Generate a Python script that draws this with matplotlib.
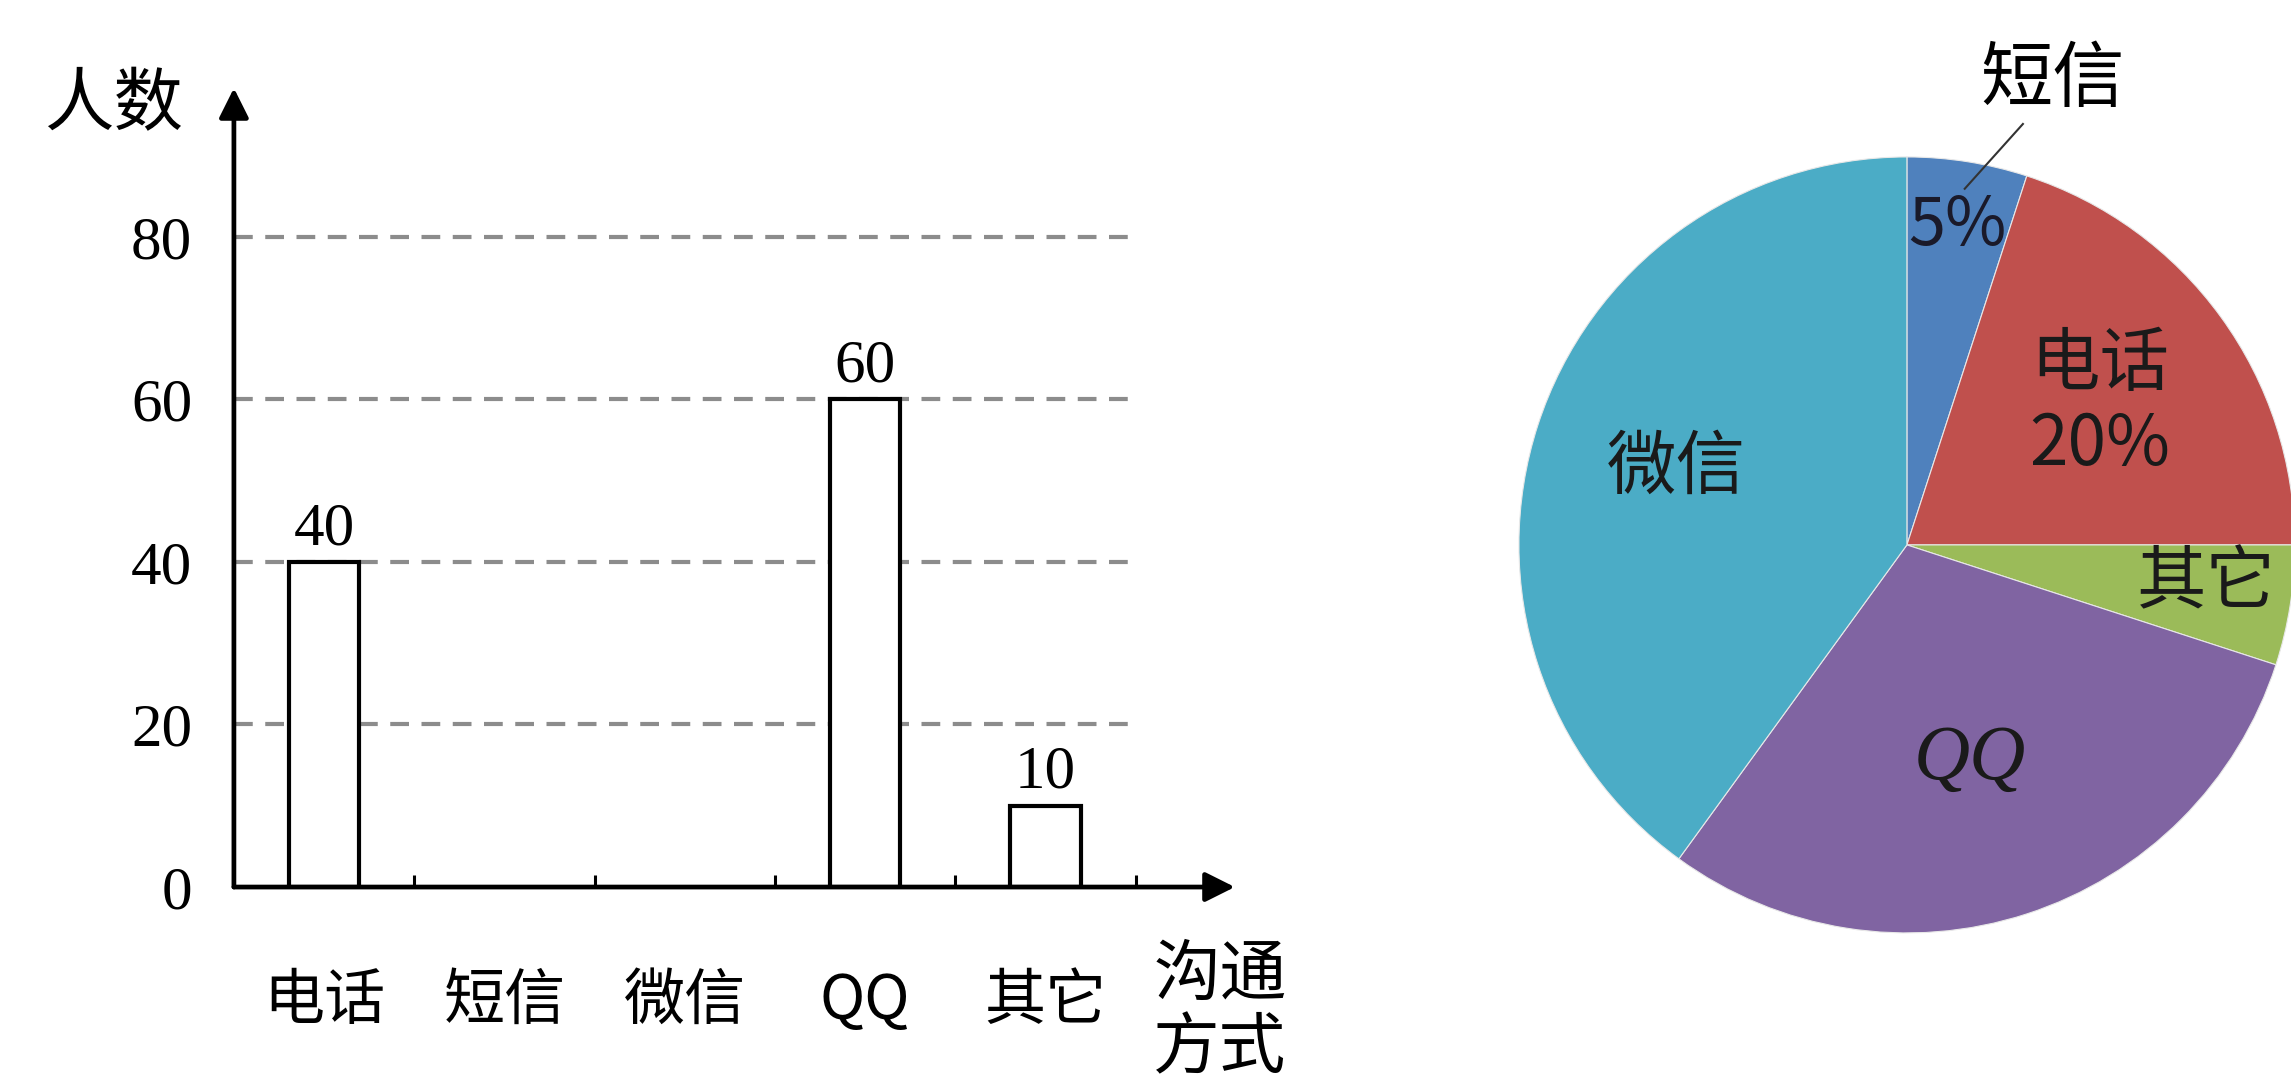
import matplotlib
matplotlib.use("Agg")
from matplotlib import pyplot as plt

plt.rcParams['font.family'] = ['Noto Sans CJK SC', 'DejaVu Sans']

# bar chart data
methods = ['电话', '短信', '微信', 'QQ', '其它']
bar_values = [40, None, None, 60, 10]
y_ticks = [0, 20, 40, 60, 80]

# pie chart data (clockwise from the top)
pie_names = ['短信', '电话', '其它', 'QQ', '微信']
pie_values = [10, 40, 10, 60, 80]
pie_colors = ['#4f81bd', '#c0504d', '#9bbb59', '#8064a2', '#4bacc6']

num_font = ['Liberation Serif', 'Noto Sans CJK SC']

fig = plt.figure(figsize=(22.91, 10.84), dpi=100)

# ---- bar chart ----
ax = fig.add_axes([0.1021, 0.1817, 0.4369, 0.737])
ax.set_xlim(-0.5, 5.05)
ax.set_ylim(0, 98.3)
for s in ax.spines.values():
    s.set_visible(False)

for g in y_ticks[1:]:
    ax.plot([-0.5, 4.52], [g, g], color='#8c8c8c', lw=3,
            linestyle=(0, (4.5, 3)), zorder=1)

xs = list(range(len(methods)))
for x, v in zip(xs, bar_values):
    if v is None:
        continue
    ax.bar(x, v, width=0.39, color='white', edgecolor='black', lw=3, zorder=2)
    ax.text(x, v + 0.6, str(v), ha='center', va='bottom', fontsize=44,
            family=num_font, zorder=3)

# axes with arrows
ax.annotate('', xy=(5.05, 0), xytext=(-0.5, 0),
            arrowprops=dict(arrowstyle='-|>', lw=3.4, color='black', mutation_scale=45,
                            shrinkA=0, shrinkB=0), annotation_clip=False, zorder=4)
ax.annotate('', xy=(-0.5, 98.3), xytext=(-0.5, 0),
            arrowprops=dict(arrowstyle='-|>', lw=3.4, color='black', mutation_scale=45,
                            shrinkA=0, shrinkB=0), annotation_clip=False, zorder=4)

ax.set_xticks(xs)
ax.set_xticklabels(methods, fontsize=44)
ax.set_xticks([0.5, 1.5, 2.5, 3.5, 4.5], minor=True)
ax.tick_params(axis='x', which='major', length=0, pad=60)
ax.tick_params(axis='x', which='minor', direction='in', length=9, width=2.2)
ax.set_yticks(y_ticks)
ax.set_yticklabels([str(t) for t in y_ticks], fontsize=44, family=num_font)
ax.tick_params(axis='y', length=0, pad=30)

ax.text(-1.17, 96.2, '人数', fontsize=50, ha='center', va='center')
ax.text(4.966, -6.8, '沟通\n方式', fontsize=48, ha='center', va='top',
        linespacing=1.12)

# ---- pie chart ----
pax = fig.add_axes([0.663, 0.1393, 0.3387, 0.716])
pax.pie(pie_values, colors=pie_colors, startangle=90, counterclock=False,
        radius=1, wedgeprops=dict(linewidth=0.8, edgecolor='#e8e8e8'))
pax.set_xlim(-1, 1)
pax.set_ylim(-1, 1)
pax.set_aspect('equal')
pax.axis('off')

pax.text(0.376, 1.198, '短信', fontsize=52, ha='center', va='center', clip_on=False)
pax.plot([0.299, 0.149], [1.085, 0.918], color='#333333', lw=1.5, clip_on=False)
pax.text(0.131, 0.822, '5%', fontsize=48, ha='center', va='center', color='#1a1a2a')
pax.text(0.497, 0.36, '电话\n20%', fontsize=50, ha='center', va='center',
         linespacing=1.15, color='#1a1a1a')
pax.text(0.771, -0.10, '其它', fontsize=50, ha='center', va='center', color='#1a1a1a')
pax.text(-0.595, 0.198, '微信', fontsize=50, ha='center', va='center', color='#1a1a1a')
pax.text(0.162, -0.554, 'QQ', fontsize=56, ha='center', va='center',
         family='Liberation Serif', style='italic', color='#1a1a1a')

fig.savefig('out.png', dpi=100)
